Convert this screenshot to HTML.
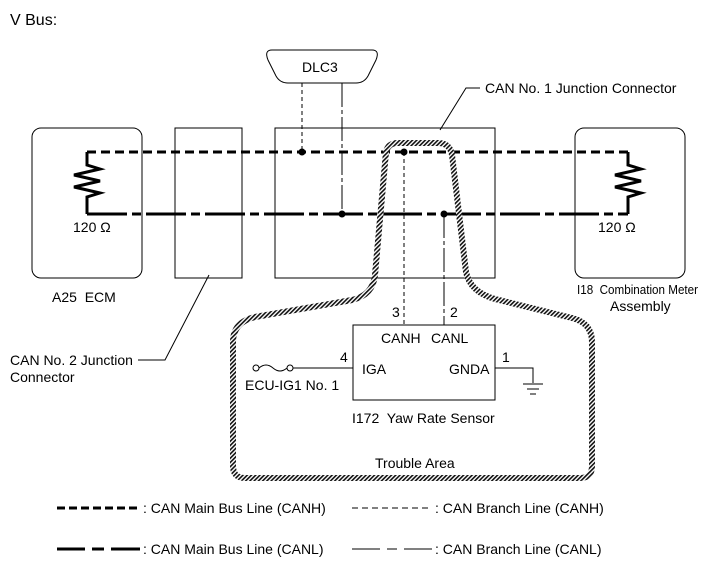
<!DOCTYPE html>
<html><head><style>
body{margin:0;background:#fff}
svg{display:block}
text{font-family:"Liberation Sans",Arial,sans-serif;font-size:14px;fill:#000;white-space:pre}
</style></head><body>
<svg width="713" height="581" viewBox="0 0 713 581" xmlns="http://www.w3.org/2000/svg">
<defs>
<pattern id="h" width="3" height="3" patternUnits="userSpaceOnUse" patternTransform="rotate(45)">
<rect width="3" height="3" fill="#fff"/><rect width="1.6" height="3" fill="#111"/>
</pattern>
</defs>
<text x="10" y="25" style="font-size:16px">V Bus:</text>

<rect x="32" y="128" width="110" height="150" rx="9" fill="none" stroke="#000" stroke-width="1"/>
<rect x="175" y="128" width="67" height="150" fill="none" stroke="#000" stroke-width="1"/>
<rect x="275" y="128" width="220" height="150" fill="none" stroke="#000" stroke-width="1"/>
<rect x="575" y="128" width="110" height="150" rx="9" fill="none" stroke="#000" stroke-width="1"/>

<path d="M272,50 L372,50 Q380,50 376,60 L368,76 Q364,83 356,83 L288,83 Q280,83 276,76 L268,60 Q264,50 272,50 Z" fill="#fff" stroke="#000"/>
<text x="302" y="72">DLC3</text>
<line x1="302" y1="83" x2="302" y2="152" stroke="#000" stroke-dasharray="4,3"/>
<line x1="342" y1="83" x2="342" y2="214" stroke="#000" stroke-dasharray="24,3,4,3"/>

<path d="M87,152 L628,152" stroke="#000" stroke-width="3" stroke-dasharray="9,5" fill="none"/>
<path d="M87,214 L628,214" stroke="#000" stroke-width="3" stroke-dasharray="40,5,9,5" fill="none"/>
<path d="M87,152 L87,165 L100,169 L74,175 L100,181 L74,187 L100,193 L87,197 L87,214" stroke="#000" stroke-width="3" fill="none"/>
<path d="M628,152 L628,165 L641,169 L615,175 L641,181 L615,187 L641,193 L628,197 L628,214" stroke="#000" stroke-width="3" fill="none"/>
<text x="73" y="232">120 Ω</text>
<text x="598" y="232">120 Ω</text>
<circle cx="302" cy="152" r="3.5"/>
<circle cx="342" cy="214" r="3.5"/>
<circle cx="404" cy="152" r="3.5"/>
<circle cx="444" cy="214" r="3.5"/>

<line x1="404" y1="152" x2="404" y2="325" stroke="#000" stroke-dasharray="4,3"/>
<line x1="444" y1="214" x2="444" y2="325" stroke="#000" stroke-dasharray="24,3,4,3"/>

<path d="M386,152 Q388,143 398,143 L438,143 Q450,143 452,155 L466,272 Q470,292 495,299 L572,318 Q592,323 592,342 L592,466 Q592,478 580,478 L245,478 Q233,478 233,466 L233,342 Q233,322 255,317 L352,300 Q373,295 375,275 Z" fill="none" stroke="url(#h)" stroke-width="6"/>

<rect x="353" y="325" width="142" height="75" fill="#fff" stroke="#000"/>
<text x="381" y="343">CANH</text>
<text x="431" y="343">CANL</text>
<text x="392" y="317">3</text>
<text x="450" y="317">2</text>
<text x="362" y="374">IGA</text>
<text x="449" y="374">GNDA</text>
<text x="340" y="362">4</text>
<text x="502" y="362">1</text>
<circle cx="256" cy="368" r="3" fill="#fff" stroke="#000"/>
<circle cx="290" cy="368" r="3" fill="#fff" stroke="#000"/>
<path d="M259,368 Q266,362 273,368 Q280,374 287,368" fill="none" stroke="#000"/>
<line x1="293" y1="368" x2="353" y2="368" stroke="#000"/>
<text x="245" y="390">ECU-IG1 No. 1</text>
<path d="M495,368 L533,368 L533,383" fill="none" stroke="#000"/>
<line x1="523" y1="384" x2="543" y2="384" stroke="#000"/>
<line x1="527" y1="389" x2="539" y2="389" stroke="#000"/>
<line x1="530" y1="394" x2="536" y2="394" stroke="#000"/>
<text x="352" y="423">I172  Yaw Rate Sensor</text>
<text x="375" y="468">Trouble Area</text>

<text x="52" y="302">A25  ECM</text>
<text x="577" y="294" style="font-size:13px" textLength="121" lengthAdjust="spacingAndGlyphs">I18  Combination Meter</text>
<text x="610" y="311">Assembly</text>
<path d="M440,130 L466,88 L480,88" fill="none" stroke="#000"/>
<text x="485" y="93">CAN No. 1 Junction Connector</text>
<path d="M209,275 L165,360 L138,360" fill="none" stroke="#000"/>
<text x="10" y="365">CAN No. 2 Junction</text>
<text x="10" y="382">Connector</text>

<line x1="57" y1="508" x2="140" y2="508" stroke="#000" stroke-width="3" stroke-dasharray="8,4"/>
<text x="143" y="513">: CAN Main Bus Line (CANH)</text>
<line x1="352" y1="508" x2="432" y2="508" stroke="#000" stroke-width="1" stroke-dasharray="6,4"/>
<text x="435" y="513">: CAN Branch Line (CANH)</text>
<path d="M57,549 L140,549" stroke="#000" stroke-width="3" stroke-dasharray="28,7,12,7,29" fill="none"/>
<text x="143" y="554">: CAN Main Bus Line (CANL)</text>
<path d="M352,549 L432,549" stroke="#000" stroke-width="1" stroke-dasharray="28,7,10,7,28" fill="none"/>
<text x="435" y="554">: CAN Branch Line (CANL)</text>
</svg>
</body></html>
